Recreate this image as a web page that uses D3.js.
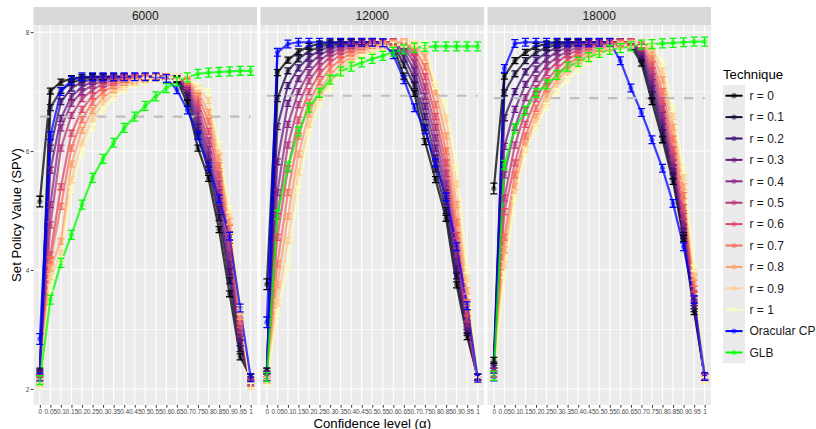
<!DOCTYPE html>
<html>
<head>
<meta charset="utf-8">
<script src="https://cdn.jsdelivr.net/npm/d3@7"></script>
<style>
    body { margin: 0; background: #fff; }
    text { font-family: "Liberation Sans", Arial, sans-serif; }
</style>
</head>
<body>
<div id="chart"></div>
<script>
const alphaLabels = ["0", "0.05", "0.1", "0.15", "0.2", "0.25", "0.3", "0.35", "0.4", "0.45", "0.5",
    "0.55", "0.6", "0.65", "0.7", "0.75", "0.8", "0.85", "0.9", "0.95", "1"];
const techniques = ["r = 0", "r = 0.1", "r = 0.2", "r = 0.3", "r = 0.4", "r = 0.5", "r = 0.6",
    "r = 0.7", "r = 0.8", "r = 0.9", "r = 1", "Oracular CP", "GLB"];
const panels = ["6000", "12000", "18000"];
const yTicks = [2, 4, 6, 8];

// one row per technique, one value per confidence level
const spv6000 = [
    [2.25, 7.01, 7.16, 7.22, 7.24, 7.25, 7.25, 7.25, 7.25, 7.25, 7.25, 7.25, 7.25, 7.20, 6.80, 6.05, 5.54, 4.68, 3.60, 2.54, 2.20],
    [2.30, 6.73, 7.02, 7.15, 7.21, 7.24, 7.25, 7.25, 7.25, 7.25, 7.25, 7.25, 7.25, 7.22, 6.92, 6.25, 5.68, 4.88, 3.82, 2.68, 2.20],
    [2.28, 6.05, 6.83, 7.06, 7.16, 7.21, 7.24, 7.25, 7.25, 7.25, 7.25, 7.25, 7.25, 7.23, 6.98, 6.40, 5.80, 5.02, 3.97, 2.78, 2.15],
    [2.25, 5.68, 6.55, 6.92, 7.08, 7.17, 7.21, 7.24, 7.25, 7.25, 7.25, 7.25, 7.25, 7.24, 7.03, 6.52, 5.92, 5.15, 4.10, 2.86, 2.15],
    [2.20, 5.10, 6.39, 6.80, 7.00, 7.11, 7.18, 7.22, 7.24, 7.25, 7.25, 7.25, 7.25, 7.24, 7.07, 6.62, 6.03, 5.30, 4.25, 2.93, 2.12],
    [2.20, 4.76, 6.05, 6.60, 6.88, 7.03, 7.13, 7.19, 7.22, 7.24, 7.25, 7.25, 7.25, 7.25, 7.10, 6.72, 6.17, 5.45, 4.40, 3.00, 2.10],
    [2.15, 4.25, 5.40, 6.30, 6.70, 6.93, 7.07, 7.15, 7.20, 7.23, 7.24, 7.25, 7.25, 7.25, 7.14, 6.82, 6.33, 5.60, 4.55, 3.08, 2.10],
    [2.15, 4.17, 5.07, 6.05, 6.53, 6.82, 6.99, 7.10, 7.16, 7.21, 7.23, 7.24, 7.25, 7.25, 7.17, 6.92, 6.50, 5.75, 4.70, 3.15, 2.05],
    [2.10, 4.03, 4.48, 5.78, 6.35, 6.68, 6.90, 7.03, 7.12, 7.18, 7.21, 7.23, 7.24, 7.25, 7.20, 7.00, 6.65, 5.90, 4.82, 3.22, 2.05],
    [2.10, 3.89, 4.28, 5.52, 6.15, 6.55, 6.80, 6.97, 7.08, 7.15, 7.19, 7.22, 7.24, 7.25, 7.22, 7.05, 6.85, 6.02, 4.93, 3.30, 2.05],
    [2.05, 3.70, 4.17, 5.35, 5.98, 6.40, 6.70, 6.90, 7.03, 7.12, 7.17, 7.21, 7.23, 7.24, 7.23, 7.10, 7.00, 6.10, 5.02, 3.36, 2.05],
    [2.20, 6.26, 7.00, 7.19, 7.25, 7.25, 7.25, 7.25, 7.25, 7.25, 7.25, 7.25, 7.22, 7.03, 6.69, 6.26, 5.74, 5.20, 4.57, 3.36, 2.19],
    [2.15, 3.50, 4.12, 4.59, 5.10, 5.55, 5.87, 6.14, 6.39, 6.58, 6.76, 6.92, 7.06, 7.17, 7.24, 7.30, 7.32, 7.33, 7.34, 7.35, 7.35]
];
const spv12000 = [
    [2.30, 7.32, 7.53, 7.67, 7.76, 7.80, 7.82, 7.83, 7.83, 7.83, 7.83, 7.83, 7.76, 7.26, 6.97, 6.16, 5.52, 4.87, 3.75, 2.88, 2.20],
    [2.30, 6.88, 7.35, 7.55, 7.68, 7.75, 7.80, 7.82, 7.83, 7.83, 7.83, 7.83, 7.80, 7.45, 7.10, 6.40, 5.70, 5.00, 3.90, 2.95, 2.20],
    [2.25, 6.41, 7.10, 7.40, 7.58, 7.69, 7.76, 7.80, 7.82, 7.83, 7.83, 7.83, 7.82, 7.58, 7.22, 6.58, 5.88, 5.15, 4.02, 3.00, 2.20],
    [2.25, 5.82, 6.80, 7.22, 7.46, 7.61, 7.71, 7.77, 7.80, 7.82, 7.83, 7.83, 7.83, 7.68, 7.35, 6.75, 6.05, 5.30, 4.15, 3.05, 2.20],
    [2.20, 5.30, 6.45, 7.00, 7.32, 7.52, 7.65, 7.73, 7.78, 7.81, 7.82, 7.83, 7.83, 7.75, 7.48, 6.92, 6.22, 5.45, 4.28, 3.10, 2.15],
    [2.20, 4.90, 6.10, 6.78, 7.18, 7.42, 7.58, 7.68, 7.75, 7.79, 7.81, 7.83, 7.83, 7.79, 7.58, 7.08, 6.40, 5.62, 4.42, 3.18, 2.15],
    [2.20, 4.55, 5.70, 6.52, 7.00, 7.30, 7.49, 7.62, 7.70, 7.76, 7.80, 7.82, 7.83, 7.81, 7.66, 7.25, 6.58, 5.80, 4.58, 3.28, 2.15],
    [2.15, 4.10, 5.30, 6.25, 6.82, 7.16, 7.39, 7.54, 7.65, 7.72, 7.77, 7.80, 7.82, 7.83, 7.72, 7.42, 6.78, 6.00, 4.80, 3.45, 2.15],
    [2.15, 3.75, 4.90, 5.95, 6.62, 7.02, 7.28, 7.46, 7.59, 7.68, 7.74, 7.78, 7.81, 7.83, 7.77, 7.58, 7.00, 6.25, 5.10, 3.65, 2.15],
    [2.15, 3.45, 4.50, 5.65, 6.45, 6.90, 7.17, 7.37, 7.52, 7.63, 7.70, 7.75, 7.79, 7.82, 7.80, 7.70, 7.10, 6.55, 5.45, 3.85, 2.15],
    [2.10, 3.28, 4.05, 5.35, 6.30, 6.78, 7.06, 7.28, 7.45, 7.57, 7.65, 7.72, 7.77, 7.80, 7.82, 7.80, 7.10, 6.80, 5.72, 4.00, 2.15],
    [2.20, 7.66, 7.80, 7.83, 7.83, 7.83, 7.83, 7.83, 7.83, 7.83, 7.83, 7.82, 7.62, 7.20, 6.73, 6.36, 5.80, 5.23, 4.39, 3.40, 2.18],
    [2.20, 4.93, 5.74, 6.33, 6.73, 6.98, 7.20, 7.34, 7.42, 7.49, 7.55, 7.60, 7.67, 7.71, 7.74, 7.75, 7.76, 7.76, 7.76, 7.76, 7.76]
];
const spv18000 = [
    [2.48, 7.26, 7.52, 7.66, 7.76, 7.80, 7.82, 7.83, 7.83, 7.83, 7.83, 7.83, 7.83, 7.77, 7.48, 6.83, 6.19, 5.49, 4.53, 3.30, 2.20],
    [2.40, 6.98, 7.30, 7.52, 7.66, 7.74, 7.79, 7.82, 7.83, 7.83, 7.83, 7.83, 7.83, 7.80, 7.55, 6.95, 6.30, 5.58, 4.58, 3.35, 2.20],
    [2.35, 6.56, 7.00, 7.33, 7.53, 7.66, 7.74, 7.79, 7.81, 7.83, 7.83, 7.83, 7.83, 7.82, 7.60, 7.05, 6.40, 5.65, 4.65, 3.40, 2.20],
    [2.30, 6.08, 6.70, 7.12, 7.38, 7.55, 7.67, 7.74, 7.79, 7.81, 7.83, 7.83, 7.83, 7.83, 7.65, 7.15, 6.50, 5.72, 4.72, 3.45, 2.20],
    [2.30, 5.60, 6.40, 6.90, 7.22, 7.44, 7.58, 7.68, 7.75, 7.79, 7.81, 7.83, 7.83, 7.83, 7.70, 7.25, 6.60, 5.80, 4.80, 3.52, 2.20],
    [2.25, 5.21, 6.10, 6.68, 7.05, 7.32, 7.49, 7.62, 7.70, 7.76, 7.80, 7.82, 7.83, 7.83, 7.74, 7.35, 6.72, 5.90, 4.90, 3.60, 2.20],
    [2.25, 4.98, 5.80, 6.45, 6.88, 7.18, 7.39, 7.54, 7.64, 7.72, 7.77, 7.80, 7.82, 7.83, 7.77, 7.45, 6.85, 6.02, 5.05, 3.68, 2.20],
    [2.20, 4.55, 5.60, 6.25, 6.72, 7.05, 7.29, 7.46, 7.58, 7.67, 7.73, 7.78, 7.81, 7.82, 7.80, 7.55, 7.00, 6.20, 5.25, 3.78, 2.15],
    [2.20, 4.34, 5.40, 6.10, 6.58, 6.93, 7.19, 7.38, 7.52, 7.62, 7.70, 7.75, 7.79, 7.81, 7.82, 7.65, 7.20, 6.40, 5.40, 3.88, 2.15],
    [2.20, 4.09, 5.30, 6.03, 6.48, 6.83, 7.10, 7.30, 7.45, 7.57, 7.66, 7.72, 7.77, 7.80, 7.82, 7.75, 7.35, 6.58, 5.55, 3.95, 2.15],
    [2.20, 3.92, 5.21, 6.00, 6.40, 6.75, 7.00, 7.20, 7.36, 7.50, 7.60, 7.68, 7.74, 7.78, 7.81, 7.83, 7.48, 6.72, 5.68, 4.03, 2.15],
    [2.20, 7.39, 7.81, 7.83, 7.83, 7.83, 7.83, 7.83, 7.83, 7.83, 7.83, 7.83, 7.52, 7.06, 6.65, 6.19, 5.71, 5.12, 4.39, 3.50, 2.21],
    [2.22, 5.77, 6.38, 6.68, 6.98, 7.12, 7.28, 7.42, 7.50, 7.58, 7.65, 7.70, 7.73, 7.76, 7.79, 7.80, 7.81, 7.82, 7.83, 7.84, 7.84]
];
// second observation at alpha = 0 (per panel)
const extraZeroR0 = [5.15, 3.76, 5.37];
const extraZeroOracular = [2.84, 3.12, null];
const thresholdSPV = [6.58, 6.93, 6.89];
const ciHalf = [0.05, 0.05, 0.05, 0.05, 0.05, 0.05, 0.05, 0.05, 0.05, 0.05, 0.05, 0.065, 0.075];
const ciHalfExtra = 0.09;

const panelSeries = [spv6000, spv12000, spv18000];

let W = 816, H = 429;
let stripTop = 7, panelTop = 25, panelBottom = 405;
let panelLeft = 33.5, panelW = 223.5, panelGap = 3.5;

let svg = d3.select("#chart")
    .append("svg")
    .attr("width", W)
    .attr("height", H);

let y = d3.scaleLinear()
    .domain([1.73, 8.12])
    .range([panelBottom, panelTop]);

let color = d3.scaleOrdinal()
    .domain(techniques)
    .range(techniques.map(function(t, i) {
        if (i < 11) return d3.interpolateMagma(i / 10);
        return i == 11 ? "#0000FF" : "#00FF00";
    }));

function drawPanel(pi) {
    let data = panelSeries[pi];
    let x0 = panelLeft + pi * (panelW + panelGap);
    let x = d3.scalePoint()
        .domain(alphaLabels)
        .range([x0, x0 + panelW])
        .padding(0.6);

    let g = svg.append("g").attr("class", "panel");

    // strip
    g.append("rect")
        .attr("x", x0).attr("y", stripTop)
        .attr("width", panelW).attr("height", panelTop - stripTop)
        .attr("fill", "#D9D9D9");
    g.append("text")
        .attr("x", x0 + panelW / 2).attr("y", panelTop - 5.5)
        .attr("text-anchor", "middle")
        .style("font-size", "12px")
        .style("fill", "#1A1A1A")
        .text(panels[pi]);

    // background + grid
    g.append("rect")
        .attr("x", x0).attr("y", panelTop)
        .attr("width", panelW).attr("height", panelBottom - panelTop)
        .attr("fill", "#EBEBEB");
    let minor = [3, 5, 7];
    g.selectAll(".minor").data(minor).enter().append("line")
        .attr("x1", x0).attr("x2", x0 + panelW)
        .attr("y1", d => y(d)).attr("y2", d => y(d))
        .attr("stroke", "#fff").attr("stroke-width", 0.6);
    g.selectAll(".major").data(yTicks).enter().append("line")
        .attr("x1", x0).attr("x2", x0 + panelW)
        .attr("y1", d => y(d)).attr("y2", d => y(d))
        .attr("stroke", "#fff").attr("stroke-width", 1.1);
    g.selectAll(".vgrid").data(alphaLabels).enter().append("line")
        .attr("x1", d => x(d)).attr("x2", d => x(d))
        .attr("y1", panelTop).attr("y2", panelBottom)
        .attr("stroke", "#fff").attr("stroke-width", 1.1);

    let series = techniques.map(function(t, ti) {
        let pts = data[ti].map(function(v, i) { return {a: alphaLabels[i], v: v, ti: ti, ci: ciHalf[ti]}; });
        let ev = null;
        if (ti == 0) ev = extraZeroR0[pi];
        if (ti == 11) ev = extraZeroOracular[pi];
        let extra = ev == null ? null : {a: alphaLabels[0], v: ev, ti: ti, ci: ciHalfExtra};
        return {t: t, ti: ti, pts: pts, extra: extra};
    });

    let line = d3.line()
        .x(d => x(d.a))
        .y(d => y(d.v));

    g.selectAll(".series-line").data(series).enter().append("path")
        .attr("d", s => line(s.pts))
        .attr("fill", "none")
        .attr("stroke", s => color(s.t))
        .attr("stroke-width", 2.2)
        .attr("stroke-opacity", 0.75);
    g.selectAll(".extra-line").data(series.filter(s => s.extra)).enter().append("path")
        .attr("d", s => line([s.extra, s.pts[1]]))
        .attr("fill", "none")
        .attr("stroke", s => color(s.t))
        .attr("stroke-width", 2.2)
        .attr("stroke-opacity", 0.75);

    // threshold
    g.append("line")
        .attr("x1", x(alphaLabels[0])).attr("x2", x(alphaLabels[alphaLabels.length - 1]))
        .attr("y1", y(thresholdSPV[pi])).attr("y2", y(thresholdSPV[pi]))
        .attr("stroke", "#BEBEBE")
        .attr("stroke-width", 2.2)
        .attr("stroke-dasharray", "9.5,9.5");

    let allPts = [];
    series.forEach(function(s) {
        s.pts.forEach(p => allPts.push(p));
        if (s.extra) allPts.push(s.extra);
    });

    g.selectAll(".pt").data(allPts).enter().append("circle")
        .attr("cx", d => x(d.a))
        .attr("cy", d => y(d.v))
        .attr("r", 2.6)
        .attr("fill", d => color(techniques[d.ti]))
        .attr("fill-opacity", 0.5);

    let cap = 3.5;
    g.selectAll(".err").data(allPts).enter().append("path")
        .attr("d", function(d) {
            let cx = x(d.a), y1 = y(d.v + d.ci), y2 = y(d.v - d.ci);
            return "M" + (cx - cap) + "," + y1 + "H" + (cx + cap) +
                "M" + cx + "," + y1 + "V" + y2 +
                "M" + (cx - cap) + "," + y2 + "H" + (cx + cap);
        })
        .attr("fill", "none")
        .attr("stroke", d => color(techniques[d.ti]))
        .attr("stroke-width", 1.3);

    // x axis
    let xAxis = g.append("g")
        .attr("transform", "translate(0," + panelBottom + ")")
        .call(d3.axisBottom(x).tickSize(2.7).tickPadding(1.5));
    xAxis.select(".domain").remove();
    xAxis.selectAll("line").attr("stroke", "#333333");
    xAxis.selectAll("text")
        .style("font-size", "6.5px")
        .style("font-family", "'Liberation Sans', Arial, sans-serif")
        .style("fill", "#4D4D4D");

    if (pi == 0) {
        let yAxis = g.append("g")
            .attr("transform", "translate(" + x0 + ",0)")
            .call(d3.axisLeft(y).tickValues(yTicks).tickFormat(d3.format("d")).tickSize(2.7).tickPadding(1.5));
        yAxis.select(".domain").remove();
        yAxis.selectAll("line").attr("stroke", "#333333");
        yAxis.selectAll("text")
            .style("font-size", "6.5px")
            .style("font-family", "'Liberation Sans', Arial, sans-serif")
            .style("fill", "#4D4D4D");
    }
}

panels.forEach(function(p, pi) { drawPanel(pi); });

// axis titles
svg.append("text")
    .attr("transform", "translate(21," + ((panelTop + panelBottom) / 2) + ") rotate(-90)")
    .attr("text-anchor", "middle")
    .style("font-size", "13.2px")
    .text("Set Policy Value (SPV)");
svg.append("text")
    .attr("x", panelLeft + (3 * panelW + 2 * panelGap) / 2)
    .attr("y", 427.5)
    .attr("text-anchor", "middle")
    .style("font-size", "13.2px")
    .text("Confidence level (α)");

// legend
let legendX = 723, legendY = 85, keyH = 21.4, keyW = 22;
let legend = svg.append("g");
legend.append("text")
    .attr("x", legendX).attr("y", 79)
    .style("font-size", "13.2px")
    .text("Technique");
legend.append("rect")
    .attr("x", legendX).attr("y", legendY)
    .attr("width", keyW).attr("height", keyH * techniques.length)
    .attr("fill", "#EBEBEB");
let item = legend.selectAll(".legend").data(techniques).enter().append("g")
    .attr("transform", function(d, i) {
        return "translate(" + legendX + "," + (legendY + i * keyH + keyH / 2) + ")";
    });
item.append("line")
    .attr("x1", 2.5).attr("x2", keyW - 2.5)
    .attr("stroke", color)
    .attr("stroke-width", 2);
item.append("circle")
    .attr("cx", keyW / 2).attr("r", 2.6)
    .attr("fill", color)
    .attr("fill-opacity", 0.5);
item.append("text")
    .attr("x", keyW + 4.5).attr("y", 4.2)
    .style("font-size", "12px")
    .style("fill", "#1A1A1A")
    .text(d => d);
</script>
</body>
</html>
